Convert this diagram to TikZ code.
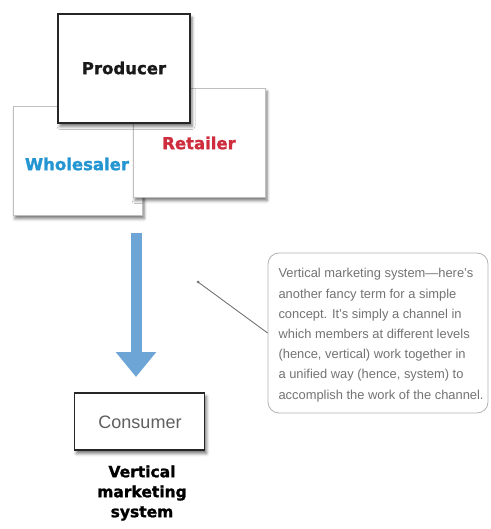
\documentclass[tikz,border=0pt]{standalone}
\usepackage{fontspec}
\setmainfont{Liberation Sans}
\newfontface\heavy{DejaVu Sans Bold}[FakeBold=1.4]
\usetikzlibrary{shadows,shadows.blur,arrows.meta}
\definecolor{wblue}{RGB}{35,150,210}
\definecolor{rred}{RGB}{205,45,60}
\definecolor{arrowblue}{RGB}{110,165,215}
\definecolor{txtgray}{RGB}{95,95,95}
\definecolor{notegray}{RGB}{115,115,115}
\begin{document}
\begin{tikzpicture}[x=1pt,y=-1pt,
  shadowed/.style={blur shadow={shadow xshift=2pt,shadow yshift=-3.5pt,shadow blur radius=3pt,shadow opacity=55}},
  lightbox/.style={draw=black!25,line width=0.6pt,fill=white,shadowed,minimum width=129pt,minimum height=109pt,inner sep=0pt},
  prodbox/.style={draw=black!85,line width=2pt,fill=white,shadowed,minimum width=132pt,minimum height=109pt,inner sep=0pt},
  conbox/.style={draw=black!85,line width=1.3pt,fill=white,shadowed,minimum width=130pt,minimum height=57pt,inner sep=0pt},
  headtxt/.style={font=\heavy\fontsize{16.5}{20}\selectfont},
  notebox/.style={draw=black!30,line width=0.8pt,rounded corners=11pt,fill=white,minimum width=220pt,minimum height=160pt,inner sep=0pt},
  notetxt/.style={text=notegray,align=left,font=\fontsize{12.9}{20.2}\selectfont},
  pointer/.style={draw=black!55,line width=0.9pt},
  bigarrow/.style={draw=arrowblue,line width=11pt,-{Triangle[width=39pt,length=25pt]}}
]
\useasboundingbox (0,0) rectangle (490,529);
% boxes
\node[lightbox] (whole) at (77.5,160.5) {};
\node[headtxt,text=wblue] (wholet) at (77,164) {Wholesaler};
\node[lightbox,minimum width=132pt] (ret) at (199,142.5) {};
\node[headtxt,text=rred] (rett) at (199,143) {Retailer};
\node[prodbox] (prod) at (124,68.5) {};
\node[headtxt,text=black!90] (prodt) at (124,68) {Producer};
% arrow
\coordinate (astart) at (136,233);
\coordinate (aend) at (136,377);
\draw[bigarrow] (astart) -- (aend);
% consumer
\node[conbox] (cons) at (139.5,421.5) {};
\node[text=txtgray,font=\fontsize{18}{20}\selectfont] (const) at (140,422) {Consumer};
\node[headtxt,font=\heavy\fontsize{15.5}{20}\selectfont,align=center] (vms) at (142,493) {Vertical\\marketing\\system};
% note
\node[notebox] (note) at (378,333) {};
\node[notetxt,anchor=north west] (notet) at (275,265) {Vertical marketing system---here's\\another fancy term for a simple\\concept. It's simply a channel in\\which members at different levels\\(hence, vertical) work together in\\a unified way (hence, system) to\\accomplish the work of the channel.};
\coordinate (pt) at (198,282);
\fill[black!55] (pt) circle (1.5pt);
\draw[pointer] (pt) -- (note.west);
\end{tikzpicture}
\end{document}
